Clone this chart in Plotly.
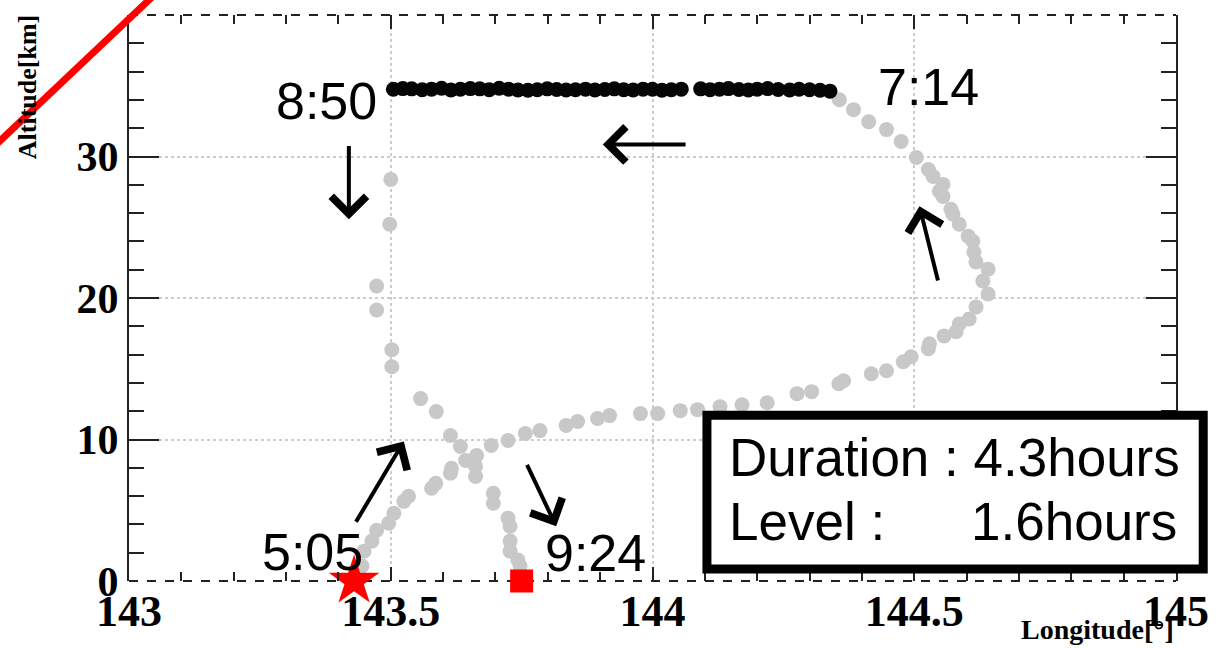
import plotly.graph_objects as go

# ---------------- data ----------------
ascent_lon = [143.445, 143.449, 143.464, 143.473, 143.496, 143.506, 143.525, 143.534, 143.578, 143.586,
              143.614, 143.616, 143.664, 143.692, 143.724, 143.757, 143.785, 143.835, 143.857, 143.895,
              143.918, 143.977, 144.010, 144.053, 144.086, 144.129, 144.171, 144.219, 144.276, 144.304,
              144.356, 144.365, 144.418, 144.447, 144.479, 144.494, 144.527, 144.529, 144.557, 144.580,
              144.586, 144.605, 144.618, 144.641, 144.631, 144.641, 144.618, 144.614, 144.612, 144.603,
              144.586, 144.574, 144.570, 144.555, 144.548, 144.555, 144.536, 144.527, 144.504, 144.475,
              144.447, 144.413, 144.384, 144.357]
ascent_alt = [1.06, 2.11, 2.82, 3.59, 4.08, 4.79, 5.63, 5.99, 6.55, 6.90,
              7.61, 7.96, 8.87, 9.58, 9.93, 10.42, 10.63, 10.99, 11.27, 11.48,
              11.69, 11.83, 11.83, 12.04, 12.11, 12.32, 12.46, 12.60, 13.24, 13.38,
              13.94, 14.15, 14.65, 14.86, 15.49, 15.85, 16.41, 16.76, 17.32, 17.61,
              18.17, 18.52, 19.37, 20.28, 21.20, 22.04, 22.54, 23.24, 24.01, 24.37,
              25.21, 25.92, 26.27, 27.18, 27.54, 28.03, 28.59, 29.08, 29.93, 31.06,
              31.90, 32.46, 33.31, 34.01]

level_lon = [143.505, 143.523, 143.540, 143.560, 143.578, 143.597, 143.615, 143.633, 143.652, 143.670,
             143.688, 143.707, 143.725, 143.743, 143.762, 143.780, 143.799, 143.817, 143.835, 143.853,
             143.872, 143.890, 143.909, 143.927, 143.945, 143.963, 143.982, 144.000, 144.018, 144.036,
             144.055, 144.092, 144.110, 144.128, 144.145, 144.165, 144.183, 144.200, 144.220, 144.240,
             144.262, 144.280, 144.300, 144.320, 144.339]
level_alt = [34.75, 34.80, 34.78, 34.72, 34.76, 34.82, 34.70, 34.75, 34.80, 34.78,
             34.72, 34.82, 34.76, 34.70, 34.68, 34.72, 34.78, 34.74, 34.70, 34.72,
             34.76, 34.70, 34.74, 34.78, 34.72, 34.70, 34.76, 34.75, 34.68, 34.72,
             34.76, 34.78, 34.72, 34.76, 34.80, 34.74, 34.70, 34.76, 34.80, 34.74,
             34.70, 34.75, 34.72, 34.68, 34.62]

descent_lon = [143.500, 143.498, 143.473, 143.473, 143.502, 143.502, 143.557, 143.587, 143.614, 143.633,
               143.643, 143.662, 143.662, 143.696, 143.696, 143.724, 143.728, 143.728, 143.728, 143.743,
               143.747]
descent_alt = [28.38, 25.21, 20.85, 19.15, 16.34, 15.14, 12.89, 11.97, 10.28, 9.51,
               8.52, 8.10, 7.39, 6.20, 5.49, 4.44, 3.87, 2.82, 2.11, 1.48,
               1.06]

launch = (143.43, 0.0)
landing = (143.75, 0.0)

x_ticks = [143, 143.5, 144, 144.5, 145]
x_tick_labels = ["143", "143.5", "144", "144.5", "145"]
y_ticks = [0, 10, 20, 30, 40]

time_labels = [("8:50", 143.378, 33.94), ("7:14", 144.527, 34.93),
               ("5:05", 143.350, 2.04), ("9:24", 143.892, 1.97)]
# (tip_lon, tip_alt, tail_lon, tail_alt)
arrows = [(143.905, 30.85, 144.066, 30.85),
          (143.420, 25.56, 143.420, 30.85),
          (144.510, 26.48, 144.546, 21.13),
          (143.525, 9.86, 143.432, 4.08),
          (143.816, 3.87, 143.759, 8.31)]

GREY = "#c8c8c8"
SERIF = "Liberation Serif"
SANS = "Liberation Sans"

fig = go.Figure()
fig.add_trace(go.Scatter(x=ascent_lon, y=ascent_alt, mode="markers",
                         marker=dict(size=15, color=GREY), showlegend=False))
fig.add_trace(go.Scatter(x=descent_lon, y=descent_alt, mode="markers",
                         marker=dict(size=15, color=GREY), showlegend=False))
fig.add_trace(go.Scatter(x=level_lon, y=level_alt, mode="markers",
                         marker=dict(size=15, color="#050505"), showlegend=False))
fig.add_trace(go.Scatter(x=[launch[0]], y=[launch[1]], mode="markers", cliponaxis=False,
                         marker=dict(symbol="star", size=38, color="#ff0000", line=dict(width=0)),
                         showlegend=False))
fig.add_trace(go.Scatter(x=[landing[0]], y=[landing[1]], mode="markers", cliponaxis=False,
                         marker=dict(symbol="square", size=23, color="#ff0000", line=dict(width=0)),
                         showlegend=False))

annotations = []
for txt, lx, ly in time_labels:
    annotations.append(dict(x=lx, y=ly, xref="x", yref="y", text=txt, showarrow=False,
                            font=dict(family=SANS, size=52, color="black"),
                            xanchor="center", yanchor="middle"))
for tx, ty, sx, sy in arrows:
    annotations.append(dict(x=tx, y=ty, ax=sx, ay=sy, xref="x", yref="y", axref="x", ayref="y",
                            text="", showarrow=True, arrowhead=4, arrowsize=1.7,
                            arrowwidth=4, arrowcolor="black", standoff=0))

# axis titles
annotations.append(dict(x=-0.097, y=1.004, xref="paper", yref="paper", text="Altitude[km]",
                        textangle=-90, showarrow=False, xanchor="center", yanchor="top",
                        font=dict(family=SERIF, size=26, color="black", weight="bold")))
annotations.append(dict(x=1.0, y=-0.117, xref="paper", yref="paper", text="Longitude[°]",
                        showarrow=False, xanchor="right", yanchor="bottom",
                        font=dict(family=SERIF, size=28, color="black", weight="bold")))
# info box text
annotations.append(dict(x=0.571, y=0.219, xref="paper", yref="paper", text="Duration : 4.3hours",
                        showarrow=False, xanchor="left", yanchor="middle",
                        font=dict(family=SANS, size=53, color="black")))
annotations.append(dict(x=0.571, y=0.105, xref="paper", yref="paper", text="Level :",
                        showarrow=False, xanchor="left", yanchor="middle",
                        font=dict(family=SANS, size=53, color="black")))
annotations.append(dict(x=1.003, y=0.105, xref="paper", yref="paper", text="1.6hours",
                        showarrow=False, xanchor="right", yanchor="middle",
                        font=dict(family=SANS, size=53, color="black")))

shapes = [
    # dashed top and bottom frame lines
    dict(type="line", xref="paper", yref="paper", x0=0, x1=1, y0=0, y1=0,
         line=dict(color="#222", width=2, dash="dash"), layer="below"),
    dict(type="line", xref="paper", yref="paper", x0=0, x1=1, y0=1, y1=1,
         line=dict(color="#222", width=2, dash="dash"), layer="below"),
    # info box
    dict(type="rect", xref="paper", yref="paper", x0=0.552, x1=1.026, y0=0.021, y1=0.293,
         line=dict(color="black", width=9), fillcolor="white", layer="above"),
    # red diagonal stroke
    dict(type="line", xref="paper", yref="paper", x0=-0.127, x1=0.029, y0=0.771, y1=1.044,
         line=dict(color="#ff0000", width=7), layer="above"),
]

fig.update_layout(
    width=1221, height=648,
    margin=dict(l=129, r=40, t=15, b=65),
    paper_bgcolor="white", plot_bgcolor="white",
    annotations=annotations, shapes=shapes,
    showlegend=False,
)
fig.update_xaxes(range=[143, 145], tickvals=x_ticks, ticktext=x_tick_labels,
                 showline=False, mirror="ticks", ticks="inside", ticklen=14, tickwidth=2,
                 tickcolor="#222", showgrid=True, gridcolor="#cccccc", griddash="dot", gridwidth=1.5,
                 tickfont=dict(family=SERIF, size=44, color="black", weight="bold"), zeroline=False,
                 minor=dict(dtick=0.1, ticks="inside", ticklen=9, tickwidth=2, tickcolor="#222",
                            showgrid=False))
fig.update_yaxes(range=[0, 40], tickvals=y_ticks,
                 showline=True, linecolor="#222", linewidth=2, mirror="ticks",
                 ticks="inside", ticklen=30, tickwidth=2, tickcolor="#222",
                 showgrid=True, gridcolor="#cccccc", griddash="dot", gridwidth=1.5,
                 tickfont=dict(family=SERIF, size=42, color="black", weight="bold"), zeroline=False,
                 minor=dict(dtick=2, ticks="inside", ticklen=15, tickwidth=2, tickcolor="#222",
                            showgrid=False))

fig.write_html("out.html")
